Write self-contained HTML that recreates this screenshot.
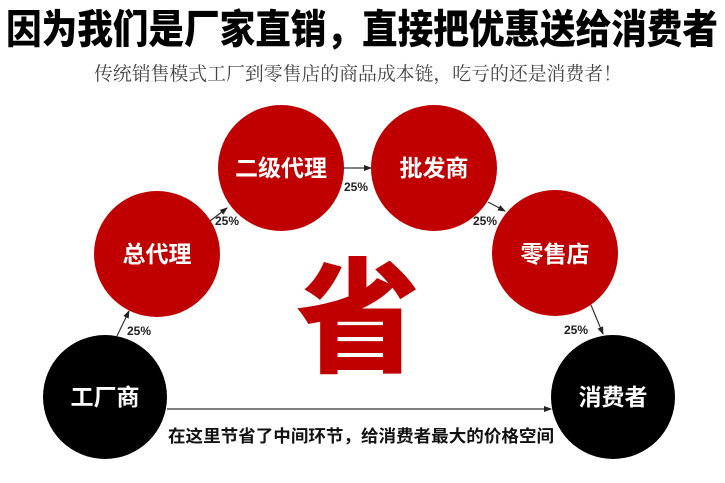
<!DOCTYPE html>
<html><head><meta charset="utf-8"><style>
html,body{margin:0;padding:0;background:#fff;width:725px;height:483px;overflow:hidden}
svg text{font-family:"Liberation Sans","Noto Sans CJK SC",sans-serif}
</style></head><body>
<svg width="725" height="483" viewBox="0 0 725 483" xmlns="http://www.w3.org/2000/svg">
<defs><marker id="a" markerWidth="8" markerHeight="8" refX="7" refY="4" orient="auto" markerUnits="userSpaceOnUse"><path d="M0,1 L8,4 L0,7z" fill="#222"/></marker></defs>
<text x="362" y="43" text-anchor="middle" font-size="40" font-weight="900" fill="#000" textLength="712" lengthAdjust="spacingAndGlyphs">因为我们是厂家直销，直接把优惠送给消费者</text>
<text x="358" y="80" text-anchor="middle" font-size="19" fill="#444" style="font-family:'Liberation Serif','Noto Serif CJK SC',serif" textLength="528" lengthAdjust="spacingAndGlyphs">传统销售模式工厂到零售店的商品成本链，吃亏的还是消费者！</text>
<g stroke="#333" stroke-width="1.2" fill="none" marker-end="url(#a)">
<line x1="117" y1="336" x2="129" y2="311"/>
<line x1="210" y1="221" x2="227" y2="208"/>
<line x1="342" y1="168" x2="371" y2="168"/>
<line x1="488" y1="202" x2="505" y2="211"/>
<line x1="591" y1="305" x2="603" y2="334"/>
<line x1="167" y1="409" x2="551" y2="409"/>
</g>
<g fill="#c00000">
<circle cx="157" cy="254" r="63"/><circle cx="281" cy="168" r="63"/><circle cx="434" cy="168" r="63"/><circle cx="555" cy="253" r="63"/>
</g>
<circle cx="105" cy="397" r="62" fill="#000"/><circle cx="613" cy="397" r="62" fill="#000"/>
<g fill="#fff" font-size="23" font-weight="bold" text-anchor="middle">
<text x="157" y="262">总代理</text><text x="281" y="176">二级代理</text><text x="434" y="176">批发商</text><text x="555" y="262">零售店</text>
<text x="105" y="405">工厂商</text><text x="613" y="405">消费者</text>
</g>
<g font-size="12" font-weight="bold" fill="#222">
<text x="127" y="335">25%</text><text x="215" y="225">25%</text><text x="344" y="191">25%</text><text x="473" y="225">25%</text><text x="564" y="334">25%</text>
</g>
<text x="358" y="362" text-anchor="middle" font-size="124" font-weight="900" fill="#c00000">省</text>
<text x="361" y="442" text-anchor="middle" font-size="17" font-weight="bold" fill="#111" textLength="386" lengthAdjust="spacingAndGlyphs">在这里节省了中间环节，给消费者最大的价格空间</text>
</svg>
</body></html>
